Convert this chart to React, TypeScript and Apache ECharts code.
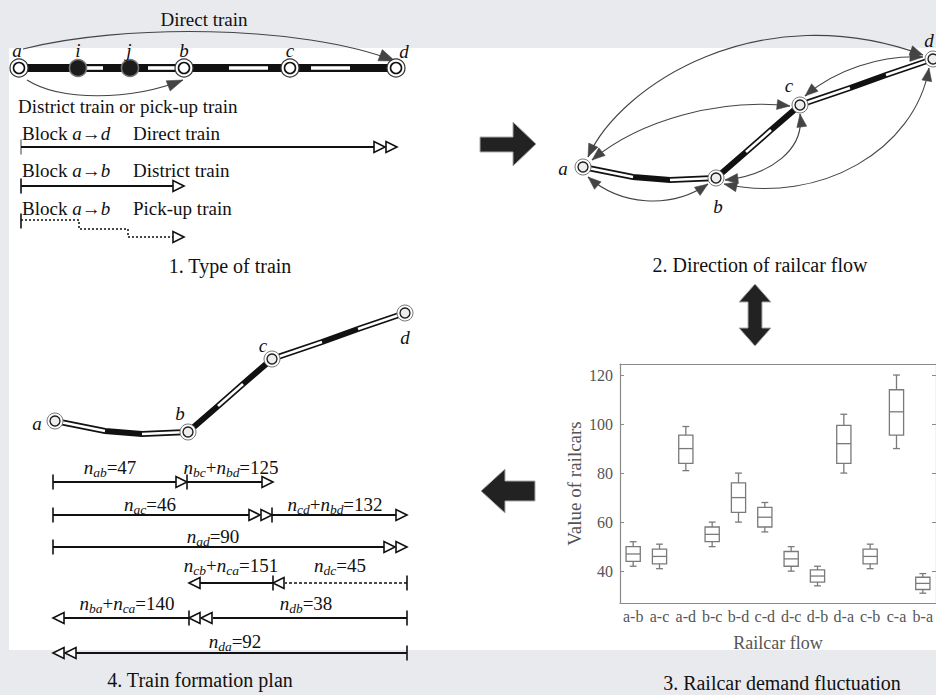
import React, { useEffect, useRef } from "react";
import * as echarts from "echarts";

const FONT = "'Liberation Serif', 'Times New Roman', Times, serif";

// ---- Panel 3: railcar demand fluctuation (box plot) ----
const flowCategories = ["a-b", "a-c", "a-d", "b-c", "b-d", "c-d", "d-c", "d-b", "d-a", "c-b", "c-a", "b-a"];
const flowMin = [42, 41, 81, 50, 60, 56, 40, 34, 80, 41, 90, 31];
const flowQ1 = [44, 43, 84, 52, 64, 58, 42, 35.5, 84, 43, 95.5, 32.5];
const flowMedian = [47, 46, 90, 55, 70, 62, 45, 38, 92, 46, 105, 35];
const flowQ3 = [50, 49, 95.5, 58, 76, 66, 48, 40.5, 99.5, 49, 114, 37.5];
const flowMax = [52, 51, 99, 60, 80, 68, 50, 42, 104, 51, 120, 39];
const yTickValues = [40, 60, 80, 100, 120];

// ---- Panel 4: train formation plan ----
const planTerms = [["ab"], ["bc", "bd"], ["ac"], ["cd", "bd"], ["ad"], ["cb", "ca"], ["dc"], ["ba", "ca"], ["db"], ["da"]];
const planValues = [47, 125, 46, 132, 90, 151, 45, 140, 38, 92];

// ---- Panel 1 texts ----
const trainTypes = ["Direct train", "District train", "Pick-up train"];
const blockEnds = ["d", "b", "b"];
const captions = ["1. Type of train", "2. Direction of railcar flow", "3. Railcar demand fluctuation", "4. Train formation plan"];

const INK = "#111";

const T = (x: number, y: number, txt: string, extra: any = {}) => ({
  type: "text",
  x,
  y,
  z: 30,
  silent: true,
  style: {
    text: txt,
    fontFamily: FONT,
    fontSize: 19,
    fill: INK,
    align: "center",
    verticalAlign: "middle",
    textAlign: "center",
    textVerticalAlign: "middle",
    ...extra,
  },
});
const ital = (x: number, y: number, txt: string, extra: any = {}) => T(x, y, txt, { fontStyle: "italic", ...extra });
const L = (x1: number, y1: number, x2: number, y2: number, extra: any = {}) => ({
  type: "line",
  z: 10,
  silent: true,
  shape: { x1, y1, x2, y2 },
  style: { stroke: INK, lineWidth: 1.8, ...extra },
});
const PL = (pts: number[][], extra: any = {}) => ({
  type: "polyline",
  z: 10,
  silent: true,
  shape: { points: pts },
  style: { stroke: INK, lineWidth: 1.8, fill: null, ...extra },
});
const openTri = (tipX: number, y: number, dir: number) => ({
  type: "polygon",
  z: 12,
  silent: true,
  shape: { points: [[tipX, y], [tipX - dir * 11, y - 5.5], [tipX - dir * 11, y + 5.5]] },
  style: { fill: "#fff", stroke: INK, lineWidth: 1.6 },
});
const vtick = (x: number, y: number, color = INK, h = 15) => L(x, y - h / 2, x, y + h / 2, { stroke: color, lineWidth: 1.6 });

const richBase = {
  r: { fontFamily: FONT, fontSize: 19, fill: INK, lineHeight: 24 },
  i: { fontFamily: FONT, fontSize: 19, fontStyle: "italic", fill: INK, lineHeight: 24 },
  s: { fontFamily: FONT, fontSize: 13.5, fontStyle: "italic", fill: INK, lineHeight: 13, verticalAlign: "bottom" },
};

const planText = (k: number) =>
  planTerms[k].map((t) => `{i|n}{s|${t}}`).join("{r|+}") + `{r|=${planValues[k]}}`;

const richText = (x: number, y: number, txt: string, align = "center") => ({
  type: "text",
  x,
  y,
  z: 30,
  silent: true,
  style: {
    text: txt,
    fontFamily: FONT,
    fontSize: 19,
    fill: INK,
    align,
    textAlign: align,
    verticalAlign: "middle",
    textVerticalAlign: "middle",
    rich: richBase,
  },
});

const bigNode = (x: number, y: number) => [
  { type: "circle", z: 15, silent: true, shape: { cx: x, cy: y, r: 9 }, style: { fill: "#fff", stroke: "#333", lineWidth: 1.2 } },
  { type: "circle", z: 16, silent: true, shape: { cx: x, cy: y, r: 5.5 }, style: { fill: "#fff", stroke: "#111", lineWidth: 1.6 } },
];
const darkNode = (x: number, y: number) => [
  { type: "circle", z: 15, silent: true, shape: { cx: x, cy: y, r: 8.5 }, style: { fill: "#1c1c1c", stroke: "#777", lineWidth: 1.5 } },
];
const smallNode = (x: number, y: number) => [
  { type: "circle", z: 15, silent: true, shape: { cx: x, cy: y, r: 8 }, style: { fill: "#fff", stroke: "#777", lineWidth: 1 } },
  { type: "circle", z: 16, silent: true, shape: { cx: x, cy: y, r: 5 }, style: { fill: "#eeeeee", stroke: "#222", lineWidth: 1.4 } },
];

const headAt = (tip: number[], from: number[], len = 13, hw = 5) => {
  const dx = tip[0] - from[0];
  const dy = tip[1] - from[1];
  const d = Math.hypot(dx, dy) || 1;
  const ux = dx / d, uy = dy / d;
  const bx = tip[0] - ux * len, by = tip[1] - uy * len;
  return {
    type: "polygon",
    z: 14,
    silent: true,
    shape: { points: [tip, [bx - uy * hw, by + ux * hw], [bx + uy * hw, by - ux * hw]] },
    style: { fill: "#444", stroke: "#444", lineWidth: 0.5 },
  };
};

const curve = (p0: number[], p1: number[], p2: number[], p3: number[], both: boolean, len = 13, hw = 5) => {
  const out: any[] = [
    {
      type: "bezierCurve",
      z: 13,
      silent: true,
      shape: { x1: p0[0], y1: p0[1], cpx1: p1[0], cpy1: p1[1], cpx2: p2[0], cpy2: p2[1], x2: p3[0], y2: p3[1] },
      style: { stroke: "#444", lineWidth: 1.1, fill: null },
    },
    headAt(p3, p2, len, hw),
  ];
  if (both) out.push(headAt(p0, p1, len, hw));
  return out;
};

// Network layout (panel 4 coordinates); panel 2 is the same shape shifted
const NET: any = {
  a: [55, 421], p1: [105, 431], p2: [142, 434], b: [188, 432], p3: [218, 406], p4: [243, 384],
  c: [272, 359], p5: [322, 342], p6: [358, 329], d: [405, 313],
};
const network = (ox: number, oy: number) => {
  const P = (k: string) => [NET[k][0] + ox, NET[k][1] + oy];
  const order = ["a", "p1", "p2", "b", "p3", "p4", "c", "p5", "p6", "d"];
  const els: any[] = [PL(order.map(P), { lineWidth: 6, stroke: "#111" })];
  const whites = [["a", "p1"], ["p2", "b"], ["p3", "p4"], ["c", "p5"], ["p6", "d"]];
  whites.forEach(([s, e]) => els.push({ ...PL([P(s), P(e)], { lineWidth: 2.6, stroke: "#fff" }), z: 11 }));
  ["a", "b", "c", "d"].forEach((k) => els.push(...smallNode(P(k)[0], P(k)[1])));
  return els;
};

function buildGraphics() {
  const g: any[] = [];
  // white sheet
  g.push({ type: "rect", z: -10, silent: true, shape: { x: 9, y: 48, width: 930, height: 602 }, style: { fill: "#fff" } });

  // ---------------- Panel 1 ----------------
  g.push(T(204, 19, "Direct train"));
  g.push(...curve([23, 49], [120, 24], [300, 24], [395, 61], false, 16, 6));
  g.push(...curve([27, 80], [60, 101], [130, 101], [183, 80], false, 16, 5.5));
  // track
  g.push(L(19, 68, 396, 68, { lineWidth: 8, stroke: "#111" }));
  [[87, 103], [148, 176], [229, 268], [311, 350]].forEach(([s, e]) =>
    g.push({ ...L(s, 68, e, 68, { lineWidth: 3.6, stroke: "#fff" }), z: 11 })
  );
  g.push(...bigNode(19, 68), ...darkNode(78, 68), ...darkNode(130, 68), ...bigNode(184, 68), ...bigNode(290, 68), ...bigNode(396, 68));
  g.push(ital(17, 50, "a"), ital(78, 50, "i"), ital(129, 50, "j"), ital(184, 50, "b"), ital(290, 50, "c"), ital(404, 51, "d"));
  g.push(T(18, 106, "District train or pick-up train", { align: "left", textAlign: "left" }));

  // rows
  const rowY = [133, 170, 208];
  rowY.forEach((y, k) => {
    g.push(richText(22, y, `{r|Block }{i|a}{r|→}{i|${blockEnds[k]}}`, "left"));
    g.push(T(133, y, trainTypes[k], { align: "left", textAlign: "left" }));
  });
  g.push(vtick(21, 147, "#888"), L(21, 147, 375, 147), openTri(385, 147, 1), openTri(397, 147, 1));
  g.push(vtick(21, 186), L(21, 186, 173, 186), openTri(184, 186, 1));
  g.push(
    vtick(21, 221),
    PL([[21, 220], [79, 220], [79, 229], [128, 229], [128, 237], [173, 237]], { lineWidth: 1.5, lineDash: [2, 2] }),
    openTri(184, 237, 1)
  );
  g.push(T(230, 266, captions[0], { fontSize: 20 }));

  // ---------------- Panel 2 ----------------
  g.push(...network(528, -254));
  g.push(...curve([588, 157], [620, 85], [760, -5], [923, 55], true));
  g.push(...curve([592, 160], [640, 120], [720, 98], [790, 106], true));
  g.push(...curve([588, 177], [620, 205], [670, 210], [708, 184], true));
  g.push(...curve([725, 180], [770, 175], [805, 150], [800, 114], true));
  g.push(...curve([724, 184], [820, 205], [915, 150], [929, 68], true));
  g.push(...curve([805, 96], [835, 70], [880, 55], [923, 57], true));
  g.push(ital(563, 168, "a"), ital(718, 206, "b"), ital(789, 85, "c"), ital(929, 40, "d"));
  g.push(T(760, 265, captions[1], { fontSize: 20 }));

  // ---------------- Big arrows ----------------
  const arrowStyle = { fill: "#222", stroke: "#aaa", lineWidth: 1 };
  g.push({ type: "polygon", z: 5, silent: true, shape: { points: [[480, 137], [513, 137], [513, 122], [536, 144], [513, 166], [513, 152], [480, 152]] }, style: arrowStyle });
  g.push({ type: "polygon", z: 5, silent: true, shape: { points: [[755, 284], [771, 302], [762, 302], [762, 328], [771, 328], [755, 346], [739, 328], [748, 328], [748, 302], [739, 302]] }, style: arrowStyle });
  g.push({ type: "polygon", z: 5, silent: true, shape: { points: [[481, 491], [505, 469], [505, 481], [535, 481], [535, 501], [505, 501], [505, 513]] }, style: arrowStyle });

  // ---------------- Panel 3 caption ----------------
  g.push(T(782, 683, captions[2], { fontSize: 20 }));

  // ---------------- Panel 4 ----------------
  g.push(...network(0, 0));
  g.push(ital(37, 423, "a"), ital(180, 413, "b"), ital(263, 345, "c"), ital(405, 337, "d"));
  // row 1
  g.push(vtick(53, 482), L(53, 482, 176, 482), openTri(187, 482, 1), vtick(187, 482), L(187, 482, 262, 482), openTri(273, 482, 1));
  // row 2
  g.push(vtick(53, 515), L(53, 515, 249, 515), openTri(260, 515, 1), openTri(272, 515, 1), vtick(272, 515), L(272, 515, 396, 515), openTri(407, 515, 1));
  // row 3
  g.push(vtick(53, 547), L(53, 547, 384, 547), openTri(395, 547, 1), openTri(407, 547, 1));
  // row 4
  g.push(vtick(407, 583), L(407, 583, 285, 583, { lineDash: [3, 2], lineWidth: 1.6 }), openTri(273, 583, -1), vtick(273, 583), L(273, 583, 200, 583), openTri(189, 583, -1));
  // row 5
  g.push(vtick(407, 618), L(407, 618, 213, 618), openTri(201, 618, -1), openTri(189, 618, -1), vtick(189, 618), L(189, 618, 64, 618), openTri(53, 618, -1));
  // row 6
  g.push(vtick(407, 653), L(407, 653, 76, 653), openTri(65, 653, -1), openTri(53, 653, -1));
  // labels
  const labelPos = [[110, 467], [231, 467], [150, 504], [335, 504], [213, 536], [231, 565], [340, 565], [127, 603], [306, 603], [235, 641]];
  labelPos.forEach(([x, y], k) => g.push(richText(x, y, planText(k))));
  g.push(T(200, 680, captions[3], { fontSize: 20 }));
  return g;
}

export default function App() {
  const ref = useRef<HTMLDivElement>(null);
  useEffect(() => {
    if (!ref.current) return;
    const chart = echarts.init(ref.current, undefined, { renderer: "svg" });
    const axisColor = "#8a8a8a";
    const labelColor = "#555";
    const boxData = flowCategories.map((_, i) => [i, flowMin[i], flowQ1[i], flowMedian[i], flowQ3[i], flowMax[i]]);
    const option: any = {
      animation: false,
      backgroundColor: "#e9eaed",
      grid: { left: 620, top: 364, width: 317, height: 239, containLabel: false },
      xAxis: [
        {
          type: "category",
          data: flowCategories,
          position: "bottom",
          axisLine: { lineStyle: { color: axisColor, width: 1.2 } },
          axisTick: { inside: true, alignWithLabel: true, length: 4, lineStyle: { color: axisColor } },
          axisLabel: { color: labelColor, fontFamily: FONT, fontSize: 16, margin: 5, interval: 0 },
          splitLine: { show: false },
          name: "Railcar flow",
          nameLocation: "middle",
          nameGap: 31,
          nameTextStyle: { color: labelColor, fontFamily: FONT, fontSize: 18 },
        },
        {
          type: "category",
          data: flowCategories,
          position: "top",
          axisLine: { lineStyle: { color: axisColor, width: 1.2 } },
          axisTick: { inside: true, alignWithLabel: true, length: 4, lineStyle: { color: axisColor } },
          axisLabel: { show: false },
        },
      ],
      yAxis: [
        {
          type: "value",
          min: 27,
          max: 124.5,
          position: "left",
          axisLine: { show: true, lineStyle: { color: axisColor, width: 1.2 } },
          axisTick: { show: true, inside: true, length: 4, customValues: yTickValues, lineStyle: { color: axisColor } },
          axisLabel: { color: labelColor, fontFamily: FONT, fontSize: 16, margin: 7, customValues: yTickValues },
          splitLine: { show: false },
          name: "Value of railcars",
          nameLocation: "middle",
          nameGap: 36,
          nameRotate: 90,
          nameTextStyle: { color: labelColor, fontFamily: FONT, fontSize: 19 },
        },
        {
          type: "value",
          min: 27,
          max: 124.5,
          position: "right",
          axisLine: { show: true, lineStyle: { color: axisColor, width: 1.2 } },
          axisTick: { show: true, inside: true, length: 4, customValues: yTickValues, lineStyle: { color: axisColor } },
          axisLabel: { show: false },
          splitLine: { show: false },
        },
      ],
      series: [
        {
          type: "custom",
          xAxisIndex: 0,
          yAxisIndex: 0,
          data: boxData,
          encode: { x: 0, y: [1, 2, 3, 4, 5] },
          renderItem: (params: any, api: any) => {
            const i = api.value(0);
            const pMin = api.coord([i, api.value(1)]);
            const pQ1 = api.coord([i, api.value(2)]);
            const pMed = api.coord([i, api.value(3)]);
            const pQ3 = api.coord([i, api.value(4)]);
            const pMax = api.coord([i, api.value(5)]);
            const band = api.size([1, 0])[0];
            const hw = band * 0.27;
            const cw = band * 0.13;
            const x = pMin[0];
            const st = { stroke: "#7a7a7a", lineWidth: 1.3, fill: null };
            return {
              type: "group",
              children: [
                { type: "line", shape: { x1: x, y1: pMax[1], x2: x, y2: pQ3[1] }, style: st },
                { type: "line", shape: { x1: x, y1: pQ1[1], x2: x, y2: pMin[1] }, style: st },
                { type: "line", shape: { x1: x - cw, y1: pMax[1], x2: x + cw, y2: pMax[1] }, style: st },
                { type: "line", shape: { x1: x - cw, y1: pMin[1], x2: x + cw, y2: pMin[1] }, style: st },
                { type: "rect", shape: { x: x - hw, y: pQ3[1], width: 2 * hw, height: pQ1[1] - pQ3[1] }, style: { ...st, fill: "rgba(0,0,0,0)" } },
                { type: "line", shape: { x1: x - hw, y1: pMed[1], x2: x + hw, y2: pMed[1] }, style: st },
              ],
            };
          },
        },
      ],
      graphic: { elements: buildGraphics() },
    };
    chart.setOption(option);
    return () => chart.dispose();
  }, []);
  return <div ref={ref} style={{ position: "fixed", left: 0, top: 0, width: 936, height: 695 }} />;
}
